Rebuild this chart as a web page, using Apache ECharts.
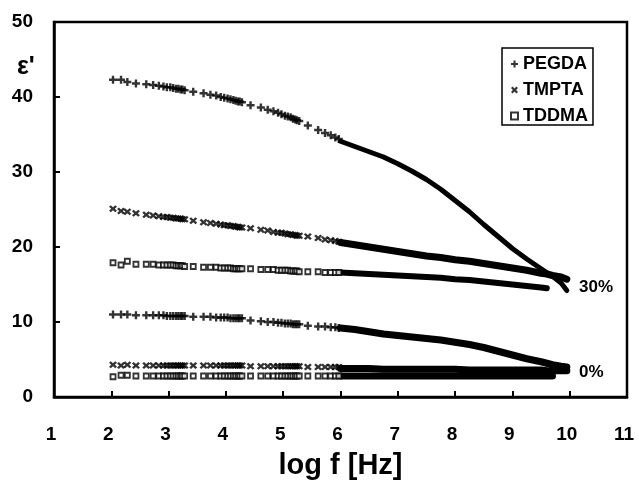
<!DOCTYPE html>
<html>
<head>
<meta charset="utf-8">
<script src="https://cdn.jsdelivr.net/npm/echarts@6/dist/echarts.min.js"></script>
<style>
  html, body { margin: 0; padding: 0; background: #fff; }
  #chart { width: 639px; height: 485px; }
</style>
</head>
<body>
<div id="chart"></div>
<script>
// log f [Hz] of the individually resolved points (low-frequency sweep)
const logFMarks = [
  2.03, 2.17, 2.28,
  2.43, 2.61, 2.73, 2.83, 2.91, 2.97, 3.03, 3.08, 3.13, 3.17, 3.21, 3.24, 3.28,
  3.43, 3.61, 3.73, 3.83, 3.91, 3.97, 4.03, 4.08, 4.13, 4.17, 4.21, 4.24, 4.28,
  4.43, 4.61, 4.73, 4.83, 4.91, 4.97, 5.03, 5.08, 5.13, 5.17, 5.21, 5.24, 5.28,
  5.43, 5.61, 5.73, 5.83, 5.91, 5.97
];
// log f [Hz] of the dense high-frequency sweep (drawn as a solid trace)
const logFBand = [6.0, 6.25, 6.5, 6.75, 7.0, 7.25, 7.5, 7.75, 8.0, 8.25, 8.5, 8.75, 9.0, 9.25, 9.5, 9.6, 9.7, 9.85, 9.95];

// ε' at 30 %
const pegda30Marks = [
  42.3, 42.3, 42.0,
  41.8, 41.7, 41.6, 41.5, 41.4, 41.3, 41.3, 41.2, 41.1, 41.1, 41.0, 41.0, 40.9,
  40.7, 40.5, 40.3, 40.2, 40.0, 39.9, 39.8, 39.7, 39.6, 39.5, 39.4, 39.4, 39.3,
  38.9, 38.6, 38.3, 38.1, 37.9, 37.7, 37.5, 37.4, 37.3, 37.1, 37.0, 36.9, 36.8,
  36.2, 35.6, 35.2, 34.9, 34.6, 34.4
];
const pegda30Band = [34.1, 33.4, 32.7, 32.0, 31.1, 30.1, 29.0, 27.7, 26.2, 24.7, 23.0, 21.4, 19.8, 18.4, 17.1, 16.6, 16.1, 15.2, 14.2];

const tmpta30Marks = [
  25.1, 24.8, 24.7,
  24.5, 24.3, 24.2, 24.1, 24.0, 24.0, 23.9, 23.9, 23.8, 23.8, 23.8, 23.7, 23.7,
  23.5, 23.3, 23.2, 23.1, 23.0, 22.9, 22.9, 22.8, 22.8, 22.7, 22.7, 22.6, 22.6,
  22.5, 22.3, 22.2, 22.0, 21.9, 21.9, 21.8, 21.7, 21.7, 21.6, 21.6, 21.5, 21.5,
  21.4, 21.2, 21.0, 20.9, 20.8, 20.7
];
const tmpta30Band = [20.6, 20.3, 20.0, 19.7, 19.4, 19.1, 18.8, 18.6, 18.3, 18.1, 17.8, 17.5, 17.2, 16.9, 16.5, 16.4, 16.2, 16.0, 15.7];

const tddma30Marks = [
  17.9, 17.6, 18.1,
  17.7, 17.7, 17.7, 17.6, 17.6, 17.6, 17.6, 17.6, 17.5, 17.5, 17.5, 17.5, 17.4,
  17.4, 17.3, 17.3, 17.3, 17.2, 17.2, 17.2, 17.2, 17.1, 17.1, 17.1, 17.1, 17.1,
  17.1, 17.0, 17.0, 17.0, 16.9, 16.9, 16.9, 16.9, 16.8, 16.8, 16.8, 16.8, 16.7,
  16.7, 16.7, 16.6, 16.6, 16.6, 16.6
];
const tddma30Band = [16.6, 16.5, 16.4, 16.3, 16.2, 16.1, 16.0, 15.9, 15.7, 15.6, 15.4, 15.2, 15.0, 14.8, 14.6, 14.5, null, null, null];

// ε' at 0 %
const pegda0Marks = [
  11.0, 11.0, 11.0,
  10.9, 10.9, 10.9, 10.9, 10.9, 10.8, 10.8, 10.8, 10.8, 10.8, 10.8, 10.8, 10.8,
  10.7, 10.7, 10.7, 10.6, 10.6, 10.6, 10.6, 10.5, 10.5, 10.5, 10.5, 10.5, 10.5,
  10.2, 10.1, 10.0, 10.0, 9.9, 9.9, 9.8, 9.8, 9.8, 9.7, 9.7, 9.7, 9.7,
  9.5, 9.4, 9.4, 9.3, 9.3, 9.2
];
const pegda0Band = [9.2, 9.0, 8.7, 8.4, 8.2, 8.0, 7.8, 7.6, 7.3, 7.0, 6.6, 6.1, 5.6, 5.1, 4.7, 4.5, 4.3, 4.1, 4.0];

const tmpta0Marks = [
  4.3, 4.2, 4.3,
  4.2, 4.2, 4.2, 4.2, 4.2, 4.2, 4.2, 4.2, 4.2, 4.2, 4.2, 4.2, 4.2,
  4.2, 4.2, 4.2, 4.2, 4.2, 4.2, 4.2, 4.2, 4.2, 4.2, 4.2, 4.2, 4.2,
  4.1, 4.1, 4.1, 4.1, 4.1, 4.1, 4.1, 4.1, 4.1, 4.1, 4.1, 4.1, 4.1,
  4.0, 4.0, 4.0, 4.0, 4.0, 4.0
];
const tmpta0Band = [3.8, 3.8, 3.8, 3.7, 3.7, 3.7, 3.7, 3.7, 3.7, 3.6, 3.6, 3.6, 3.6, 3.6, 3.6, 3.5, 3.5, 3.5, 3.5];

const tddma0Marks = [
  2.7, 2.9, 2.9,
  2.8, 2.8, 2.8, 2.8, 2.8, 2.8, 2.8, 2.8, 2.8, 2.8, 2.8, 2.8, 2.8,
  2.8, 2.8, 2.8, 2.8, 2.8, 2.8, 2.8, 2.8, 2.8, 2.8, 2.8, 2.8, 2.8,
  2.8, 2.8, 2.8, 2.8, 2.8, 2.8, 2.8, 2.8, 2.8, 2.8, 2.8, 2.8, 2.8,
  2.8, 2.8, 2.8, 2.8, 2.8, 2.8
];
const tddma0Band = [2.8, 2.8, 2.8, 2.8, 2.8, 2.8, 2.8, 2.8, 2.8, 2.8, 2.8, 2.8, 2.8, 2.8, 2.8, 2.8, 2.8, null, null];

const xTicks = [1, 2, 3, 4, 5, 6, 7, 8, 9, 10, 11];
const yTicks = [0, 10, 20, 30, 40, 50];

const FONT = '"Liberation Sans", Arial, sans-serif';
const PLUS = 'path://M2.8,0H5.2V2.8H8V5.2H5.2V8H2.8V5.2H0V2.8H2.8Z';
const CROSS = 'path://M0,1.8L1.8,0L4,2.2L6.2,0L8,1.8L5.8,4L8,6.2L6.2,8L4,5.8L1.8,8L0,6.2L2.2,4Z';

const pairs = (xs, ys) => xs.map((x, i) => [x, ys[i]]);

const markStyle = {
  plus: { symbol: PLUS, symbolSize: 8, itemStyle: { color: '#000' } },
  cross: { symbol: CROSS, symbolSize: [8, 7], itemStyle: { color: '#000' } },
  square: { symbol: 'rect', symbolSize: 5, itemStyle: { color: '#fff', borderColor: '#000', borderWidth: 1.8 } }
};

function marks(name, ys, kind) {
  return Object.assign({
    name, type: 'scatter', data: pairs(logFMarks, ys), z: 3, silent: true
  }, markStyle[kind]);
}
function band(name, ys, width) {
  return {
    name, type: 'line', data: pairs(logFBand, ys), showSymbol: false, symbol: 'none',
    connectNulls: false, lineStyle: { color: '#000', width: width, cap: 'round', join: 'round' },
    z: 2, silent: true
  };
}

const chart = echarts.init(document.getElementById('chart'), null, { renderer: 'canvas' });
chart.setOption({
  animation: false,
  backgroundColor: '#fff',
  grid: { left: 54, right: 12, top: 22, bottom: 87, show: true, borderColor: '#000', borderWidth: 2.5, backgroundColor: 'transparent' },
  xAxis: {
    type: 'value', min: xTicks[0], max: xTicks[xTicks.length - 1], interval: 1,
    axisLine: { lineStyle: { color: '#000', width: 2.5 } },
    axisTick: { inside: true, length: 6, lineStyle: { color: '#000', width: 2 } },
    splitLine: { show: false },
    axisLabel: { color: '#000', fontFamily: FONT, fontWeight: 'bold', fontSize: 19, margin: 28, padding: [0, 6, 0, 0] },
    name: 'log f [Hz]', nameLocation: 'middle', nameGap: 54,
    nameTextStyle: { color: '#000', fontFamily: FONT, fontWeight: 'bold', fontSize: 29 }
  },
  yAxis: {
    type: 'value', min: yTicks[0], max: yTicks[yTicks.length - 1], interval: 10,
    axisLine: { lineStyle: { color: '#000', width: 2.5 } },
    axisTick: { inside: true, length: 6, lineStyle: { color: '#000', width: 2 } },
    splitLine: { show: false },
    axisLabel: { color: '#000', fontFamily: FONT, fontWeight: 'bold', fontSize: 19, margin: 21 }
  },
  legend: {
    orient: 'vertical', left: 502, top: 48,
    data: [
      { name: 'PEGDA', icon: PLUS },
      { name: 'TMPTA', icon: CROSS },
      { name: 'TDDMA', icon: 'rect' }
    ],
    itemWidth: 7, itemHeight: 7, itemGap: 8,
    padding: [7, 5, 0, 8],
    borderColor: '#000', borderWidth: 1.5, backgroundColor: '#fff',
    textStyle: { color: '#000', fontFamily: FONT, fontWeight: 'bold', fontSize: 18, lineHeight: 14 },
    selectedMode: false
  },
  graphic: [
    { type: 'text', left: 17, top: 55, style: { text: "ε'", font: 'bold 25px ' + FONT, fill: '#000' } },
    { type: 'text', left: 579, top: 279, style: { text: '30%', font: 'bold 17px ' + FONT, fill: '#000' } },
    { type: 'text', left: 579, top: 364, style: { text: '0%', font: 'bold 17px ' + FONT, fill: '#000' } }
  ],
  series: [
    band('PEGDA 30% HF', pegda30Band, 5),
    band('TMPTA 30% HF', tmpta30Band, 7),
    band('TDDMA 30% HF', tddma30Band, 6),
    band('PEGDA 0% HF', pegda0Band, 7),
    band('TMPTA 0% HF', tmpta0Band, 7),
    band('TDDMA 0% HF', tddma0Band, 7),
    marks('PEGDA', pegda30Marks, 'plus'),
    marks('TMPTA', tmpta30Marks, 'cross'),
    marks('TDDMA', tddma30Marks, 'square'),
    marks('PEGDA 0%', pegda0Marks, 'plus'),
    marks('TMPTA 0%', tmpta0Marks, 'cross'),
    marks('TDDMA 0%', tddma0Marks, 'square')
  ]
});
</script>
</body>
</html>
